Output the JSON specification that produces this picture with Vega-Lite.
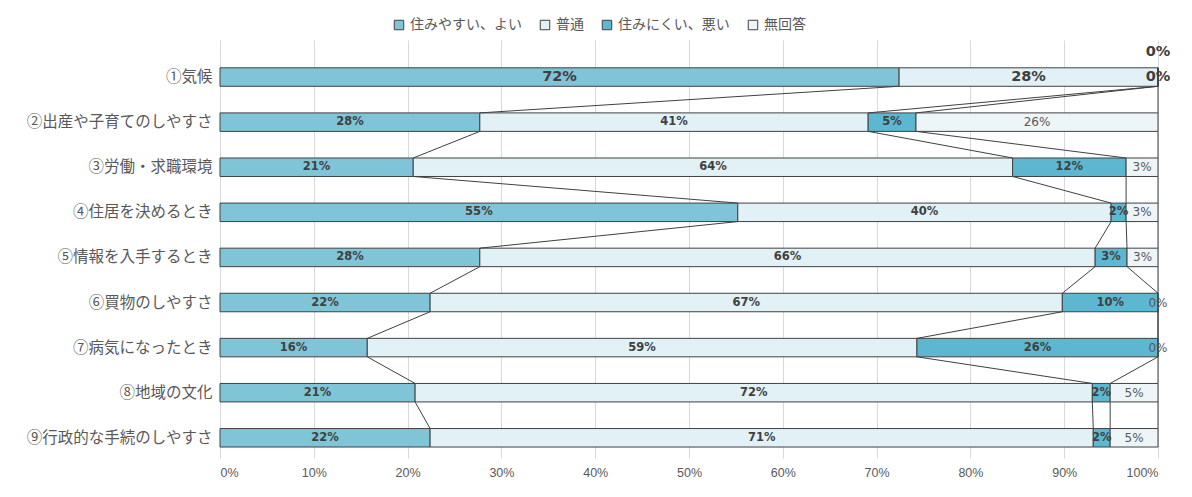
{
  "$schema": "https://vega.github.io/schema/vega-lite/v6.json",
  "width": 938,
  "height": 418,
  "autosize": {"type": "none"},
  "padding": {"left": 220, "top": 40, "right": 34, "bottom": 39},
  "background": "white",
  "config": {"view": {"stroke": null}, "font": "Noto Sans CJK JP"},
  "data": {"values": [
    {"cat": "①気候", "idx": 1, "series": "住みやすい、よい", "s": 1, "value": 0.724},
    {"cat": "①気候", "idx": 1, "series": "普通", "s": 2, "value": 0.276},
    {"cat": "①気候", "idx": 1, "series": "住みにくい、悪い", "s": 3, "value": 0},
    {"cat": "①気候", "idx": 1, "series": "無回答", "s": 4, "value": 0},
    {"cat": "②出産や子育てのしやすさ", "idx": 2, "series": "住みやすい、よい", "s": 1, "value": 0.277},
    {"cat": "②出産や子育てのしやすさ", "idx": 2, "series": "普通", "s": 2, "value": 0.414},
    {"cat": "②出産や子育てのしやすさ", "idx": 2, "series": "住みにくい、悪い", "s": 3, "value": 0.051},
    {"cat": "②出産や子育てのしやすさ", "idx": 2, "series": "無回答", "s": 4, "value": 0.258},
    {"cat": "③労働・求職環境", "idx": 3, "series": "住みやすい、よい", "s": 1, "value": 0.206},
    {"cat": "③労働・求職環境", "idx": 3, "series": "普通", "s": 2, "value": 0.639},
    {"cat": "③労働・求職環境", "idx": 3, "series": "住みにくい、悪い", "s": 3, "value": 0.121},
    {"cat": "③労働・求職環境", "idx": 3, "series": "無回答", "s": 4, "value": 0.034},
    {"cat": "④住居を決めるとき", "idx": 4, "series": "住みやすい、よい", "s": 1, "value": 0.552},
    {"cat": "④住居を決めるとき", "idx": 4, "series": "普通", "s": 2, "value": 0.398},
    {"cat": "④住居を決めるとき", "idx": 4, "series": "住みにくい、悪い", "s": 3, "value": 0.016},
    {"cat": "④住居を決めるとき", "idx": 4, "series": "無回答", "s": 4, "value": 0.034},
    {"cat": "⑤情報を入手するとき", "idx": 5, "series": "住みやすい、よい", "s": 1, "value": 0.277},
    {"cat": "⑤情報を入手するとき", "idx": 5, "series": "普通", "s": 2, "value": 0.656},
    {"cat": "⑤情報を入手するとき", "idx": 5, "series": "住みにくい、悪い", "s": 3, "value": 0.034},
    {"cat": "⑤情報を入手するとき", "idx": 5, "series": "無回答", "s": 4, "value": 0.033},
    {"cat": "⑥買物のしやすさ", "idx": 6, "series": "住みやすい、よい", "s": 1, "value": 0.224},
    {"cat": "⑥買物のしやすさ", "idx": 6, "series": "普通", "s": 2, "value": 0.674},
    {"cat": "⑥買物のしやすさ", "idx": 6, "series": "住みにくい、悪い", "s": 3, "value": 0.102},
    {"cat": "⑥買物のしやすさ", "idx": 6, "series": "無回答", "s": 4, "value": 0},
    {"cat": "⑦病気になったとき", "idx": 7, "series": "住みやすい、よい", "s": 1, "value": 0.157},
    {"cat": "⑦病気になったとき", "idx": 7, "series": "普通", "s": 2, "value": 0.586},
    {"cat": "⑦病気になったとき", "idx": 7, "series": "住みにくい、悪い", "s": 3, "value": 0.257},
    {"cat": "⑦病気になったとき", "idx": 7, "series": "無回答", "s": 4, "value": 0},
    {"cat": "⑧地域の文化", "idx": 8, "series": "住みやすい、よい", "s": 1, "value": 0.208},
    {"cat": "⑧地域の文化", "idx": 8, "series": "普通", "s": 2, "value": 0.722},
    {"cat": "⑧地域の文化", "idx": 8, "series": "住みにくい、悪い", "s": 3, "value": 0.019},
    {"cat": "⑧地域の文化", "idx": 8, "series": "無回答", "s": 4, "value": 0.051},
    {"cat": "⑨行政的な手続のしやすさ", "idx": 9, "series": "住みやすい、よい", "s": 1, "value": 0.224},
    {"cat": "⑨行政的な手続のしやすさ", "idx": 9, "series": "普通", "s": 2, "value": 0.707},
    {"cat": "⑨行政的な手続のしやすさ", "idx": 9, "series": "住みにくい、悪い", "s": 3, "value": 0.018},
    {"cat": "⑨行政的な手続のしやすさ", "idx": 9, "series": "無回答", "s": 4, "value": 0.051}
  ]},
  "layer": [
    {
      "mark": {"type": "bar", "stroke": "#404040", "strokeWidth": 1},
      "encoding": {
        "y": {"field": "cat", "type": "nominal", "title": null,
          "scale": {"domain": ["①気候", "②出産や子育てのしやすさ", "③労働・求職環境", "④住居を決めるとき", "⑤情報を入手するとき", "⑥買物のしやすさ", "⑦病気になったとき", "⑧地域の文化", "⑨行政的な手続のしやすさ"], "paddingInner": 0.59, "paddingOuter": 0.43, "align": 0.717},
          "axis": {"domain": false, "ticks": false, "labelFont": "Noto Sans CJK JP", "labelFontSize": 15.5, "labelColor": "#595959", "labelPadding": 8, "labelLimit": 215}},
        "x": {"field": "value", "type": "quantitative", "stack": "zero", "title": null,
          "scale": {"domain": [0, 1]},
          "axis": {"format": ".0%", "values": [0, 0.1, 0.2, 0.3, 0.4, 0.5, 0.6, 0.7, 0.8, 0.9, 1], "grid": true, "gridColor": "#d9d9d9", "domain": false, "ticks": false, "labelColor": "#595959", "labelFont": "Liberation Sans", "labelFontSize": 12.5, "labelPadding": 8}},
        "color": {"field": "series", "type": "nominal",
          "scale": {"domain": ["住みやすい、よい", "普通", "住みにくい、悪い", "無回答"], "range": ["#80c4d8", "#e2f1f6", "#5db7d0", "#eef5f8"]},
          "legend": {"title": null, "orient": "none", "direction": "horizontal", "legendX": 172, "legendY": -22, "symbolType": "square", "symbolSize": 90, "symbolStrokeColor": "#404040", "symbolStrokeWidth": 1, "labelFont": "Noto Sans CJK JP", "labelFontSize": 14, "labelColor": "#595959", "columnPadding": 16, "labelOffset": 4}},
        "order": {"field": "s"}
      }
    },
    {
      "transform": [
        {"stack": "value", "groupby": ["cat"], "sort": [{"field": "s", "order": "ascending"}], "as": ["x0", "x1"]},
        {"window": [{"op": "lead", "field": "x1", "as": "nx1"}, {"op": "lead", "field": "cat", "as": "ncat"}], "groupby": ["s"], "sort": [{"field": "idx", "order": "ascending"}]},
        {"filter": "datum.ncat != null"}
      ],
      "mark": {"type": "rule", "color": "#404040", "strokeWidth": 1},
      "encoding": {
        "y": {"field": "cat", "type": "nominal", "bandPosition": 1},
        "y2": {"field": "ncat", "bandPosition": 0},
        "x": {"field": "x1", "type": "quantitative"},
        "x2": {"field": "nx1"}
      }
    },
    {
      "mark": {"type": "text", "font": "DejaVu Sans", "fontWeight": "bold", "fontSize": 11.5, "color": "#404040"},
      "encoding": {
        "y": {"field": "cat", "type": "nominal"},
        "x": {"field": "value", "type": "quantitative", "stack": "zero", "bandPosition": 0.5},
        "detail": {"field": "s"},
        "order": {"field": "s"},
        "text": {"condition": {"test": "datum.idx > 1 && datum.s < 4", "field": "value", "type": "quantitative", "format": ".0%"}, "value": ""}
      }
    },
    {
      "mark": {"type": "text", "font": "DejaVu Sans", "fontSize": 12, "color": "#595959"},
      "encoding": {
        "y": {"field": "cat", "type": "nominal"},
        "x": {"field": "value", "type": "quantitative", "stack": "zero", "bandPosition": 0.5},
        "detail": {"field": "s"},
        "order": {"field": "s"},
        "text": {"condition": {"test": "datum.idx > 1 && datum.s == 4", "field": "value", "type": "quantitative", "format": ".0%"}, "value": ""}
      }
    },
    {
      "mark": {"type": "text", "font": "DejaVu Sans", "fontWeight": "bold", "fontSize": 14.5, "color": "#404040"},
      "encoding": {
        "y": {"field": "cat", "type": "nominal"},
        "x": {"field": "value", "type": "quantitative", "stack": "zero", "bandPosition": 0.5},
        "detail": {"field": "s"},
        "order": {"field": "s"},
        "text": {"condition": {"test": "datum.idx == 1 && datum.s < 4", "field": "value", "type": "quantitative", "format": ".0%"}, "value": ""}
      }
    },
    {
      "mark": {"type": "text", "font": "DejaVu Sans", "fontWeight": "bold", "fontSize": 14.5, "color": "#404040", "dy": -25},
      "encoding": {
        "y": {"field": "cat", "type": "nominal"},
        "x": {"field": "value", "type": "quantitative", "stack": "zero", "bandPosition": 0.5},
        "detail": {"field": "s"},
        "order": {"field": "s"},
        "text": {"condition": {"test": "datum.idx == 1 && datum.s == 4", "field": "value", "type": "quantitative", "format": ".0%"}, "value": ""}
      }
    }
  ]
}
